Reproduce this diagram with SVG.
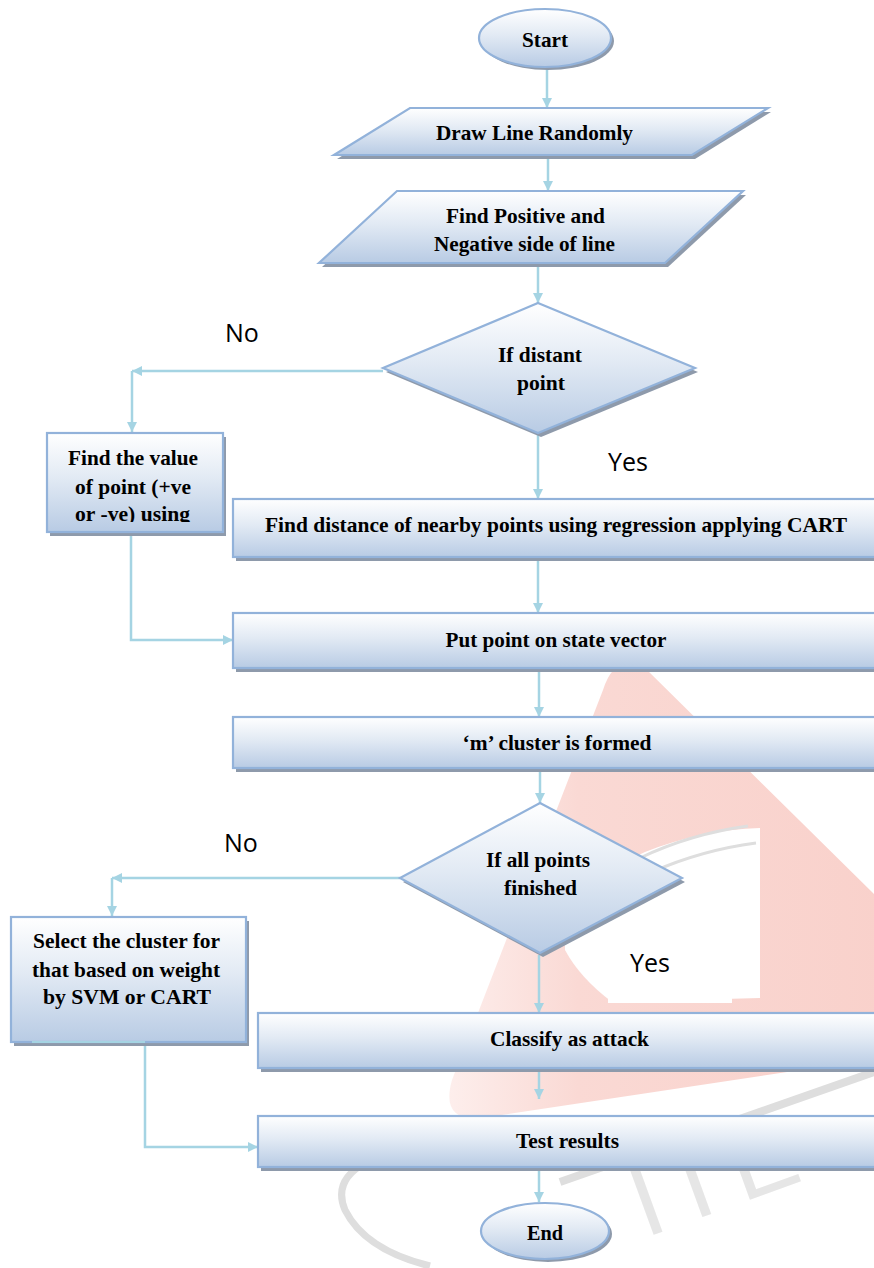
<svg xmlns="http://www.w3.org/2000/svg" width="874" height="1268" viewBox="0 0 874 1268">
<defs>
<linearGradient id="g" x1="0" y1="0" x2="0" y2="1">
<stop offset="0" stop-color="#ffffff"/>
<stop offset="0.45" stop-color="#e2eaf4"/>
<stop offset="1" stop-color="#b8cbe4"/>
</linearGradient>
<linearGradient id="pink" x1="0" y1="0" x2="1" y2="0">
<stop offset="0" stop-color="#fdeeec"/>
<stop offset="0.3" stop-color="#fad9d4"/>
<stop offset="1" stop-color="#f9d1cb"/>
</linearGradient>
<marker id="ah" viewBox="0 0 10 10" refX="10" refY="5" markerWidth="10" markerHeight="10" markerUnits="userSpaceOnUse" orient="auto">
<path d="M0,0 L10,5 L0,10 z" fill="#a5d4e3"/>
</marker>
<clipPath id="clipFV"><rect x="40" y="430" width="190" height="92"/></clipPath>
</defs>
<style>
.sh{fill:#8e9aab;stroke:none}
.nd{fill:url(#g);stroke:#92b2da;stroke-width:2.2}
.t{font-family:"Liberation Serif","Times New Roman",serif;font-weight:bold;font-size:21px;fill:#000;text-anchor:middle}
.lb{font-family:"Open Sans","Liberation Sans",sans-serif;font-size:25px;fill:#000}
.cn{fill:none;stroke:#a5d4e3;stroke-width:2.5}
.wm{fill:none;stroke:#dedede}
</style>
<rect x="0" y="0" width="874" height="1268" fill="#ffffff"/>
<g id="watermark">
<path d="M 645 668 Q 615 652 603 690 L 452 1080 Q 440 1122 482 1118 L 880 1058 L 880 900 Z" fill="url(#pink)"/>
<path d="M 565 905 Q 600 872 645 852 Q 700 830 760 828 L 760 998 L 612 1002 Q 580 978 565 950 Z" fill="#ffffff"/>
<path d="M 640 858 Q 690 834 748 826" class="wm" stroke="#f8d6d1" stroke-width="3"/>
<path d="M 652 872 Q 702 850 756 843" class="wm" stroke="#f8d6d1" stroke-width="3"/>
<path d="M 560 1182 L 880 1070" class="wm" stroke-width="8"/>
<path d="M 480 1140 Q 320 1150 345 1210 Q 365 1250 430 1266" class="wm" stroke-width="7"/>
<text x="645" y="1238" transform="rotate(-20 645 1238)" font-family="Liberation Sans, sans-serif" font-size="100" letter-spacing="24" fill="#e6e6e6">IIE</text>
</g>
<g id="connectors">
<line class="cn" x1="547" y1="68" x2="547" y2="108" marker-end="url(#ah)"/>
<line class="cn" x1="548" y1="158" x2="548" y2="191" marker-end="url(#ah)"/>
<line class="cn" x1="538" y1="266" x2="538" y2="303" marker-end="url(#ah)"/>
<line class="cn" x1="538" y1="434" x2="538" y2="499" marker-end="url(#ah)"/>
<line class="cn" x1="383" y1="371" x2="132" y2="371" marker-end="url(#ah)"/>
<line class="cn" x1="132" y1="371" x2="132" y2="432" marker-end="url(#ah)"/>
<polyline class="cn" points="131,533 131,640 233,640" marker-end="url(#ah)"/>
<line class="cn" x1="538" y1="560" x2="538" y2="613" marker-end="url(#ah)"/>
<line class="cn" x1="539" y1="670" x2="539" y2="717" marker-end="url(#ah)"/>
<line class="cn" x1="540" y1="770" x2="540" y2="803" marker-end="url(#ah)"/>
<line class="cn" x1="400" y1="878" x2="112" y2="878" marker-end="url(#ah)"/>
<line class="cn" x1="112" y1="878" x2="112" y2="916" marker-end="url(#ah)"/>
<line class="cn" x1="539" y1="955" x2="539" y2="1013" marker-end="url(#ah)"/>
<polyline class="cn" points="145,1043 145,1147 258,1147" marker-end="url(#ah)"/>
<line class="cn" x1="539" y1="1070" x2="539" y2="1099" marker-end="url(#ah)"/>
<line class="cn" x1="539" y1="1169" x2="539" y2="1202" marker-end="url(#ah)"/>
</g>
<g id="start">
<ellipse class="sh" cx="548" cy="41" rx="66" ry="29"/>
<ellipse class="nd" cx="545" cy="38" rx="66" ry="29"/>
<text class="t" x="545" y="47" textLength="46" lengthAdjust="spacingAndGlyphs">Start</text>
</g>
<g id="draw-line">
<polygon class="sh" points="413,112 771,112 695,159 337,159"/>
<polygon class="nd" points="410,108 768,108 692,155 334,155"/>
<text class="t" x="534.5" y="140" textLength="197" lengthAdjust="spacingAndGlyphs">Draw Line Randomly</text>
</g>
<g id="find-positive">
<polygon class="sh" points="400,195 746,195 668,267 322,267"/>
<polygon class="nd" points="397,191 743,191 665,263 319,263"/>
<text class="t" x="525.5" y="223" textLength="159" lengthAdjust="spacingAndGlyphs">Find Positive and</text>
<text class="t" x="524.5" y="251" textLength="181" lengthAdjust="spacingAndGlyphs">Negative side of line</text>
</g>
<g id="if-distant">
<polygon class="sh" points="541,307 698,372 541,437 386,372"/>
<polygon class="nd" points="538,303 695,368 538,433 383,368"/>
<text class="t" x="540" y="362" textLength="84" lengthAdjust="spacingAndGlyphs">If distant</text>
<text class="t" x="541" y="390" textLength="48" lengthAdjust="spacingAndGlyphs">point</text>
</g>
<g id="find-value">
<rect class="sh" x="50" y="437" width="176" height="99"/>
<rect class="nd" x="47" y="433" width="176" height="99"/>
<text class="t" x="133" y="465" textLength="130" lengthAdjust="spacingAndGlyphs">Find the value</text>
<text class="t" x="133" y="494" textLength="116" lengthAdjust="spacingAndGlyphs">of point (+ve</text>
<g clip-path="url(#clipFV)"><text class="t" x="132.5" y="521" textLength="115" lengthAdjust="spacingAndGlyphs">or -ve) using</text></g>
</g>
<g id="find-distance">
<rect class="sh" x="236" y="503" width="660" height="58"/>
<rect class="nd" x="233" y="499" width="660" height="58"/>
<text class="t" x="556" y="532" textLength="582" lengthAdjust="spacingAndGlyphs">Find distance of nearby points using regression applying CART</text>
</g>
<g id="put-point">
<rect class="sh" x="236" y="617" width="660" height="55"/>
<rect class="nd" x="233" y="613" width="660" height="55"/>
<text class="t" x="556" y="647" textLength="221" lengthAdjust="spacingAndGlyphs">Put point on state vector</text>
</g>
<g id="m-cluster">
<rect class="sh" x="236" y="721" width="660" height="51"/>
<rect class="nd" x="233" y="717" width="660" height="51"/>
<text class="t" x="557" y="750" textLength="189" lengthAdjust="spacingAndGlyphs">‘m’ cluster is formed</text>
</g>
<g id="if-all-points">
<polygon class="sh" points="543,807 685,882 543,957 403,882"/>
<polygon class="nd" points="540,803 682,878 540,953 400,878"/>
<text class="t" x="538" y="867" textLength="104" lengthAdjust="spacingAndGlyphs">If all points</text>
<text class="t" x="540.5" y="895" textLength="73" lengthAdjust="spacingAndGlyphs">finished</text>
</g>
<g id="select-cluster">
<rect class="sh" x="14" y="921" width="235" height="125"/>
<rect class="nd" x="11" y="917" width="235" height="125"/>
<line x1="32" y1="1042" x2="145" y2="1042" stroke="#a5d4e3" stroke-width="2.2"/>
<text class="t" x="126.5" y="948" textLength="187" lengthAdjust="spacingAndGlyphs">Select the cluster for</text>
<text class="t" x="126" y="977" textLength="188" lengthAdjust="spacingAndGlyphs">that based on weight</text>
<text class="t" x="127" y="1004" textLength="168" lengthAdjust="spacingAndGlyphs">by SVM or CART</text>
</g>
<g id="classify">
<rect class="sh" x="261" y="1017" width="640" height="55"/>
<rect class="nd" x="258" y="1013" width="640" height="55"/>
<text class="t" x="569.5" y="1046" textLength="159" lengthAdjust="spacingAndGlyphs">Classify as attack</text>
</g>
<g id="test-results">
<rect class="sh" x="261" y="1120" width="640" height="51"/>
<rect class="nd" x="258" y="1116" width="640" height="51"/>
<text class="t" x="567.5" y="1148" textLength="103" lengthAdjust="spacingAndGlyphs">Test results</text>
</g>
<g id="end">
<ellipse class="sh" cx="548" cy="1234" rx="64" ry="28"/>
<ellipse class="nd" cx="545" cy="1231" rx="64" ry="28"/>
<text class="t" x="545" y="1240" textLength="36" lengthAdjust="spacingAndGlyphs">End</text>
</g>
<g id="labels">
<text class="lb" x="225" y="342">No</text>
<text class="lb" x="608" y="471">Yes</text>
<text class="lb" x="224" y="852">No</text>
<rect x="608" y="938" width="124" height="65" fill="#ffffff"/>
<text class="lb" x="630" y="972">Yes</text>
</g>
</svg>
